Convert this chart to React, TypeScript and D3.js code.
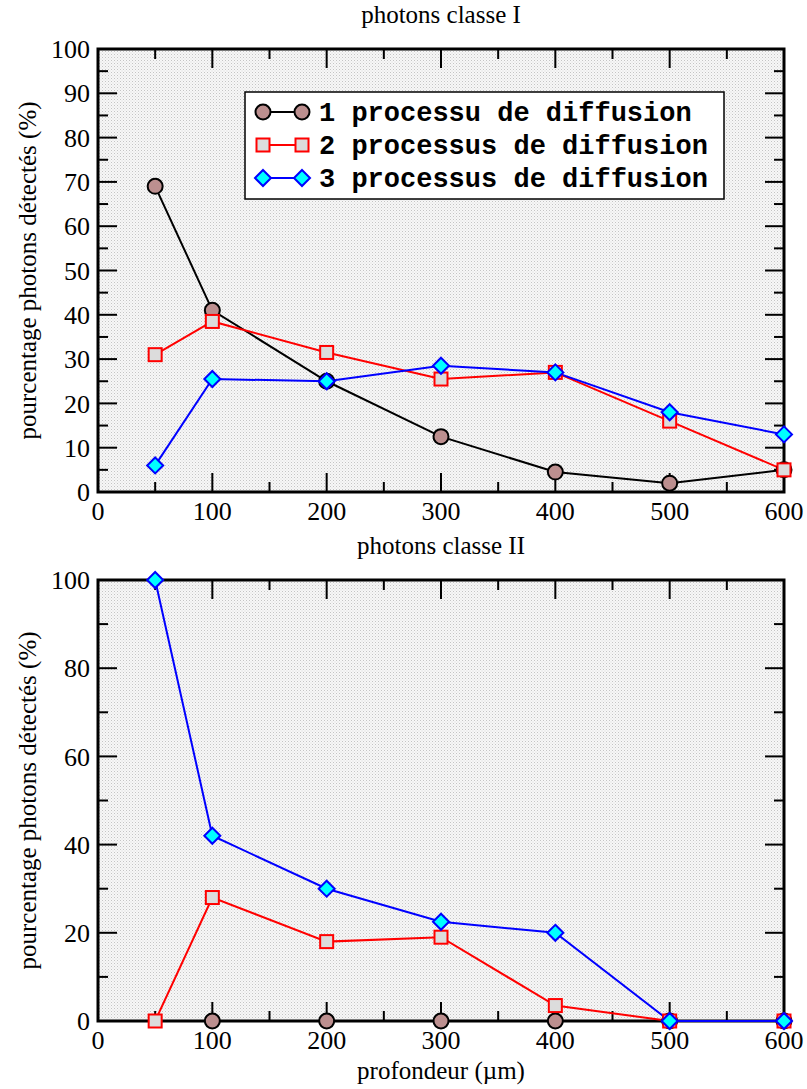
import React from "react";
import * as d3 from "d3";

const depths = [50, 100, 200, 300, 400, 500, 600];
const seriesNames = ["1 processu de diffusion", "2 processus de diffusion", "3 processus de diffusion"];

const topS1 = [69, 41, 25, 12.5, 4.5, 2, 5];
const topS2 = [31, 38.5, 31.5, 25.5, 27, 16, 5];
const topS3 = [6, 25.5, 25, 28.5, 27, 18, 13];

const botDepths1 = [100, 200, 300, 400, 500, 600];
const botS1 = [0, 0, 0, 0, 0, 0];
const botS2 = [0, 28, 18, 19, 3.5, 0, 0];
const botS3 = [100, 42, 30, 22.5, 20, 0, 0];

const xTicks = [0, 100, 200, 300, 400, 500, 600];
const topYTicks = [0, 10, 20, 30, 40, 50, 60, 70, 80, 90, 100];
const botYTicks = [0, 20, 40, 60, 80, 100];

const W = 807;
const H = 1089;
const left = 98;
const right = 784;
const SERIF = "'Liberation Serif', 'DejaVu Serif', serif";
const MONO = "'Liberation Mono', 'DejaVu Sans Mono', monospace";

type Pt = [number, number];

function Marker({ kind, x, y }: { kind: number; x: number; y: number }) {
  if (kind === 0) return <circle cx={x} cy={y} r={7.5} fill="#bc8f8f" stroke="#000" strokeWidth={2} />;
  if (kind === 1) return <rect x={x - 6.5} y={y - 6.5} width={13} height={13} fill="#dcdcdc" stroke="#ff0000" strokeWidth={2} />;
  return (
    <path d={`M${x},${y - 8}L${x + 8},${y}L${x},${y + 8}L${x - 8},${y}Z`} fill="#00ffff" stroke="#0000ff" strokeWidth={2} />
  );
}

const colors = ["#000000", "#ff0000", "#0000ff"];

function Panel({
  top, bottom, yMajor, yMinorStep, yMajorStep, series, title, legend, xLabel,
}: {
  top: number; bottom: number; yMajor: number[]; yMinorStep: number; yMajorStep: number;
  series: { xs: number[]; ys: number[] }[]; title: string; legend: boolean; xLabel?: string;
}) {
  const x = d3.scaleLinear().domain([0, 600]).range([left, right]);
  const y = d3.scaleLinear().domain([0, 100]).range([bottom, top]);
  const line = d3.line<Pt>().x(d => x(d[0])).y(d => y(d[1]));
  const yMinor = d3.range(yMinorStep, 100, yMajorStep).filter(v => !yMajor.includes(v));
  const xMinor = d3.range(50, 600, 100);
  const majorLen = 19;
  const minorLen = 10;
  return (
    <g>
      <rect x={left} y={top} width={right - left} height={bottom - top} fill="url(#dots)" />
      {yMajor.map(v => (
        <g key={"ym" + v}>
          <line x1={left} x2={left + majorLen} y1={y(v)} y2={y(v)} stroke="#000" strokeWidth={2} />
          <line x1={right} x2={right - majorLen} y1={y(v)} y2={y(v)} stroke="#000" strokeWidth={2} />
          <text x={left - 8} y={y(v)} dy="0.35em" textAnchor="end" fontSize={26} fontFamily={SERIF}>{v}</text>
        </g>
      ))}
      {yMinor.map(v => (
        <g key={"yn" + v}>
          <line x1={left} x2={left + minorLen} y1={y(v)} y2={y(v)} stroke="#000" strokeWidth={2} />
          <line x1={right} x2={right - minorLen} y1={y(v)} y2={y(v)} stroke="#000" strokeWidth={2} />
        </g>
      ))}
      {xTicks.map(v => (
        <g key={"xm" + v}>
          <line x1={x(v)} x2={x(v)} y1={bottom} y2={bottom - majorLen} stroke="#000" strokeWidth={2} />
          <line x1={x(v)} x2={x(v)} y1={top} y2={top + majorLen} stroke="#000" strokeWidth={2} />
          <text x={x(v)} y={bottom + 28} textAnchor="middle" fontSize={26} fontFamily={SERIF}>{v}</text>
        </g>
      ))}
      {xMinor.map(v => (
        <g key={"xn" + v}>
          <line x1={x(v)} x2={x(v)} y1={bottom} y2={bottom - minorLen} stroke="#000" strokeWidth={2} />
          <line x1={x(v)} x2={x(v)} y1={top} y2={top + minorLen} stroke="#000" strokeWidth={2} />
        </g>
      ))}
      <rect x={left} y={top} width={right - left} height={bottom - top} fill="none" stroke="#000" strokeWidth={3} />
      {series.map((s, i) => (
        <path key={"l" + i} d={line(s.xs.map((xv, j) => [xv, s.ys[j]] as Pt)) || ""} fill="none" stroke={colors[i]} strokeWidth={2} />
      ))}
      {series.map((s, i) => (
        <g key={"m" + i}>
          {s.xs.map((xv, j) => <Marker key={j} kind={i} x={x(xv)} y={y(s.ys[j])} />)}
        </g>
      ))}
      <text x={441} y={top - 26} textAnchor="middle" fontSize={25} fontFamily={SERIF}>{title}</text>
      <text transform={`translate(36,${(top + bottom) / 2}) rotate(-90)`} textAnchor="middle" fontSize={25} fontFamily={SERIF}>
        pourcentage photons détectés (%)
      </text>
      {xLabel && (
        <text x={441} y={bottom + 58} textAnchor="middle" fontSize={25} fontFamily={SERIF}>{xLabel}</text>
      )}
      {legend && (
        <g>
          <rect x={245} y={92} width={479} height={107} fill="#fff" stroke="#000" strokeWidth={1.5} />
          {seriesNames.map((n, i) => {
            const ly = 112 + i * 33;
            return (
              <g key={"lg" + i}>
                <line x1={263} x2={302} y1={ly} y2={ly} stroke={colors[i]} strokeWidth={2} />
                <Marker kind={i} x={263} y={ly} />
                <Marker kind={i} x={302} y={ly} />
                <text x={319} y={ly} dy="0.35em" fontSize={27} fontWeight="bold" fontFamily={MONO}>{n}</text>
              </g>
            );
          })}
        </g>
      )}
    </g>
  );
}

export default function App() {
  return (
    <svg width={W} height={H} style={{ position: "absolute", left: 0, top: 0, background: "#fff" }}>
      <defs>
        <pattern id="dots" width={3} height={3} patternUnits="userSpaceOnUse">
          <rect width={3} height={3} fill="#f7f7f7" />
          <rect x={0} y={0} width={1} height={1} fill="#c4c4c4" />
          <rect x={1.5} y={1.5} width={1} height={1} fill="#dadada" />
        </pattern>
      </defs>
      <Panel
        top={49} bottom={492} yMajor={topYTicks} yMinorStep={5} yMajorStep={10}
        series={[{ xs: depths, ys: topS1 }, { xs: depths, ys: topS2 }, { xs: depths, ys: topS3 }]}
        title="photons classe I" legend={true}
      />
      <Panel
        top={580} bottom={1021} yMajor={botYTicks} yMinorStep={10} yMajorStep={20}
        series={[{ xs: botDepths1, ys: botS1 }, { xs: depths, ys: botS2 }, { xs: depths, ys: botS3 }]}
        title="photons classe II" legend={false} xLabel="profondeur (µm)"
      />
    </svg>
  );
}
